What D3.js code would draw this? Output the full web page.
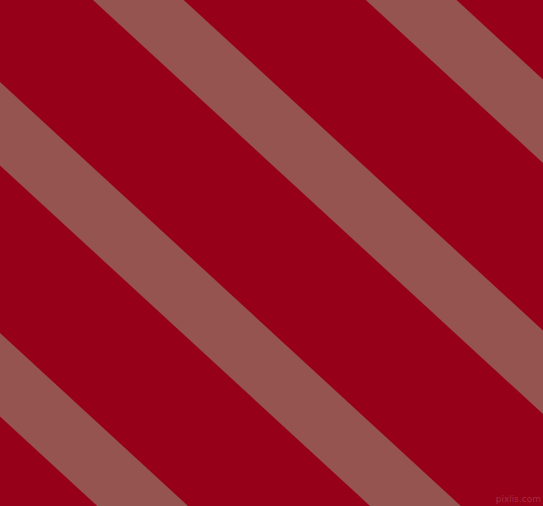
<!DOCTYPE html>
<html>
<head>
<meta charset="utf-8">
<script src="https://cdn.jsdelivr.net/npm/d3@7"></script>
<style>
  html, body { margin: 0; padding: 0; background: #970019; }
  svg { display: block; }
</style>
</head>
<body>
<svg id="chart"></svg>
<script>
// stripe top edges, as y where each band crosses x = 0
var stripeOffsets = [ -420 , -169 , 82 , 333 ];
var stripeThickness = 83.5;   // vertical thickness of a band
var stripeSlope = 0.92;       // dy / dx of the bands
var watermark = "pixlis.com";

var W = 543, H = 506;

var svg = d3.select( "#chart" ).attr( "width" , W ).attr( "height" , H );

var x = d3.scaleLinear().domain( [ 0 , W ] ).range( [ 0 , W ] );
var y = d3.scaleLinear().domain( [ 0 , H ] ).range( [ 0 , H ] );

svg.append( "rect" )
   .attr( "width" , W ).attr( "height" , H )
   .attr( "fill" , "#970019" );

var x0 = -60, x1 = W + 60;

svg.selectAll( "polygon.stripe" )
   .data( stripeOffsets )
   .enter().append( "polygon" )
   .attr( "class" , "stripe" )
   .attr( "fill" , "#965450" )
   .attr( "points" , function( c ) {
     var pts = [
       [ x0 , c + stripeSlope * x0 ],
       [ x1 , c + stripeSlope * x1 ],
       [ x1 , c + stripeThickness + stripeSlope * x1 ],
       [ x0 , c + stripeThickness + stripeSlope * x0 ]
     ];
     return pts.map( function( p ) { return x( p[0] ) + "," + y( p[1] ); } ).join( " " );
   } );

svg.append( "text" )
   .attr( "x" , W - 2 ).attr( "y" , H - 4 )
   .attr( "text-anchor" , "end" )
   .attr( "font-family" , "DejaVu Sans, sans-serif" )
   .attr( "font-size" , 9 )
   .attr( "fill" , "#ffffff" )
   .attr( "fill-opacity" , 0.18 )
   .text( watermark );
</script>
</body>
</html>
